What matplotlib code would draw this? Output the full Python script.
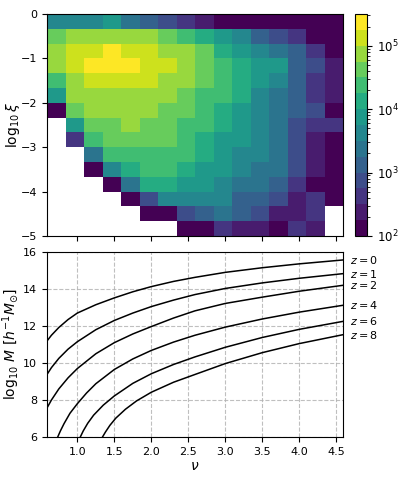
import matplotlib

matplotlib.use("Agg")
import matplotlib.pyplot as plt
import numpy as np
from matplotlib.colors import LogNorm

plt.rcParams["font.size"] = 8

nan = np.nan

# nu bin edges and log10(xi) bin edges of the 2D histogram
nu_edges = np.linspace(0.59, 4.59, 17)
logxi_edges = np.linspace(0.0, -5.0, 16)

# log10 of the counts per cell (top row is log10 xi in [0, -1/3])
log_counts = [
    [3.6, 3.6, 3.6, 3.9, 3.4, 3.1, 2.9, 2.6, 2.4, 2.1, 2.1, 2.1, 2.1, 2.1, 2.1, 2.1],
    [4.6, 4.9, 4.9, 4.9, 4.9, 4.9, 4.6, 4.4, 4.1, 3.9, 3.6, 3.1, 2.9, 2.6, 2.1, 2.1],
    [4.9, 5.1, 5.1, 5.4, 5.1, 5.1, 4.9, 4.9, 4.6, 4.1, 3.9, 3.6, 3.4, 3.1, 2.6, 2.1],
    [4.9, 5.1, 5.4, 5.4, 5.4, 5.1, 5.1, 4.9, 4.6, 4.4, 4.1, 3.9, 3.8, 3.1, 2.9, 2.4],
    [4.4, 4.9, 5.1, 5.1, 5.1, 5.1, 4.9, 4.9, 4.6, 4.4, 4.1, 3.9, 3.6, 3.1, 2.6, 2.4],
    [3.9, 4.9, 4.9, 4.9, 4.9, 4.9, 4.9, 4.6, 4.4, 4.4, 4.1, 3.6, 3.4, 3.1, 2.6, 2.4],
    [2.1, 4.6, 4.9, 4.9, 4.9, 4.9, 4.6, 4.6, 4.4, 4.1, 3.9, 3.6, 3.4, 3.1, 2.9, 2.1],
    [nan, 3.9, 4.6, 4.6, 4.9, 4.6, 4.6, 4.4, 4.4, 4.1, 3.9, 3.6, 3.4, 2.9, 2.6, 2.6],
    [nan, 2.6, 4.4, 4.6, 4.6, 4.6, 4.6, 4.4, 4.1, 3.9, 3.9, 3.6, 3.4, 2.9, 2.4, 2.1],
    [nan, nan, 3.4, 4.4, 4.4, 4.4, 4.4, 4.4, 4.1, 3.9, 3.6, 3.6, 3.4, 2.9, 2.4, 2.1],
    [nan, nan, 2.1, 3.7, 4.1, 4.4, 4.4, 4.1, 3.9, 3.9, 3.6, 3.4, 3.4, 2.9, 2.4, 2.1],
    [nan, nan, nan, 2.1, 3.4, 4.1, 4.1, 3.9, 3.9, 3.6, 3.4, 3.4, 3.1, 2.6, 2.1, 2.1],
    [nan, nan, nan, nan, 2.1, 2.9, 3.6, 3.6, 3.6, 3.6, 3.1, 3.1, 2.9, 2.4, 2.6, 2.1],
    [nan, nan, nan, nan, nan, 2.1, 2.1, 2.9, 3.1, 3.4, 3.1, 2.9, 2.4, 2.4, 2.6, nan],
    [nan, nan, nan, nan, nan, nan, nan, 2.1, 2.1, 2.6, 2.4, 2.4, 2.1, 2.6, 2.4, nan],
]

# log10 M(nu) curves for each redshift
redshifts = [0, 1, 2, 4, 6, 8]
nu_z0 = [0.59, 0.65, 0.75, 0.875, 1.0, 1.25, 1.5, 1.75, 2.0, 2.3, 2.59, 3.0, 3.5, 4.0, 4.59]
logm_z0 = [11.19, 11.5, 11.92, 12.35, 12.7, 13.15, 13.52, 13.85, 14.13, 14.41, 14.63, 14.9, 15.15, 15.36, 15.57]
nu_z1 = [0.59, 0.65, 0.75, 0.875, 1.0, 1.25, 1.5, 1.75, 2.0, 2.3, 2.59, 3.0, 3.5, 4.0, 4.59]
logm_z1 = [9.38, 9.75, 10.25, 10.75, 11.15, 11.8, 12.3, 12.7, 13.05, 13.4, 13.7, 14.03, 14.33, 14.58, 14.83]
nu_z2 = [0.59, 0.65, 0.75, 0.875, 1.0, 1.25, 1.5, 1.75, 2.0, 2.3, 2.59, 3.0, 3.5, 4.0, 4.59]
logm_z2 = [7.57, 8.0, 8.6, 9.2, 9.7, 10.5, 11.1, 11.57, 11.97, 12.43, 12.82, 13.22, 13.56, 13.88, 14.2]
nu_z4 = [0.735, 0.77, 0.82, 0.9, 1.0, 1.125, 1.25, 1.5, 1.75, 2.0, 2.3, 2.59, 3.0, 3.5, 4.0, 4.59]
logm_z4 = [6.0, 6.32, 6.72, 7.28, 7.8, 8.38, 8.88, 9.65, 10.22, 10.68, 11.13, 11.5, 11.94, 12.38, 12.75, 13.12]
nu_z6 = [1.04, 1.08, 1.14, 1.22, 1.35, 1.5, 1.75, 2.0, 2.3, 2.59, 3.0, 3.5, 4.0, 4.59]
logm_z6 = [6.0, 6.33, 6.74, 7.18, 7.72, 8.22, 8.9, 9.42, 9.92, 10.33, 10.85, 11.38, 11.82, 12.25]
nu_z8 = [1.34, 1.38, 1.44, 1.52, 1.65, 1.8, 2.0, 2.3, 2.59, 3.0, 3.5, 4.0, 4.59]
logm_z8 = [6.0, 6.27, 6.63, 7.02, 7.5, 7.95, 8.42, 8.96, 9.38, 9.97, 10.56, 11.05, 11.53]

curves = [
    (nu_z0, logm_z0),
    (nu_z1, logm_z1),
    (nu_z2, logm_z2),
    (nu_z4, logm_z4),
    (nu_z6, logm_z6),
    (nu_z8, logm_z8),
]

fig = plt.figure(figsize=(3.99, 4.78), dpi=100)
ax_top = fig.add_axes([0.1178, 0.5063, 0.7419, 0.4644])
ax_bot = fig.add_axes([0.1178, 0.0858, 0.7419, 0.387], sharex=ax_top)
cax = fig.add_axes([0.8897, 0.5063, 0.030, 0.4644])

counts = 10.0 ** np.array(log_counts)
cmap = plt.get_cmap("viridis", 14)
mesh = ax_top.pcolormesh(
    nu_edges, logxi_edges, counts, cmap=cmap, norm=LogNorm(vmin=1e2, vmax=10**5.5)
)
ax_top.set_ylim(-5, 0)
ax_top.set_yticks([0, -1, -2, -3, -4, -5])
ax_top.set_ylabel(r"$\log_{10}\xi$", fontsize=10)
ax_top.yaxis.set_label_coords(-0.085, 0.5)
ax_top.tick_params(labelbottom=False)

cb = fig.colorbar(mesh, cax=cax)
cb.ax.tick_params(labelsize=8.5)

for (nu, logm), z in zip(curves, redshifts):
    ax_bot.plot(nu, logm, color="black", lw=1.1)
    ax_bot.text(4.68, logm[-1], f"$z={z}$", va="center", ha="left",
                fontsize=8, clip_on=False)

ax_bot.set_xlim(0.59, 4.59)
ax_bot.set_ylim(6, 16)
ax_bot.set_xticks([1.0, 1.5, 2.0, 2.5, 3.0, 3.5, 4.0, 4.5])
ax_bot.set_yticks([6, 8, 10, 12, 14, 16])
ax_bot.grid(True, ls="--", color="#b0b0b0", alpha=0.8)
ax_bot.set_xlabel(r"$\nu$", fontsize=10, labelpad=2)
ax_bot.set_ylabel(r"$\log_{10}\,M\ [h^{-1}M_{\odot}]$", fontsize=10)
ax_bot.yaxis.set_label_coords(-0.085, 0.5)

fig.savefig("out.png", dpi=100)
plt.close(fig)
